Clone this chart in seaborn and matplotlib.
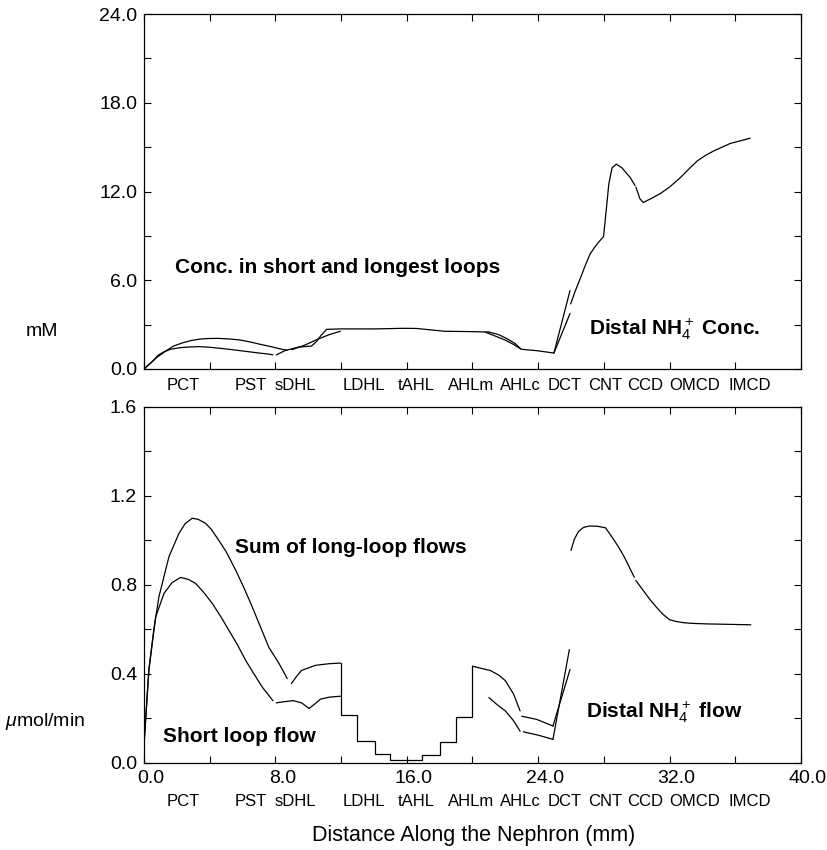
import numpy as np
import pandas as pd
import seaborn as sns
import matplotlib.pyplot as plt
from matplotlib.ticker import MultipleLocator, FormatStrFormatter
from matplotlib.transforms import ScaledTranslation

# ---- segment names along the nephron ----
segments = ["PCT", "PST", "sDHL", "LDHL", "tAHL", "AHLm", "AHLc",
            "DCT", "CNT", "CCD", "OMCD", "IMCD"]
segment_pos = [2.4, 6.5, 9.2, 13.4, 16.6, 19.9, 22.9, 25.6, 28.1, 30.5, 33.5, 36.9]

# ---- top panel: concentration (mM) ----
conc_pct_a_x = [0, 0.3, 0.55, 0.8, 1.36, 1.8, 2.38, 2.9, 3.4, 3.9, 4.52, 5.2, 5.85,
                6.5, 7.07, 7.7, 8.29, 8.7]
conc_pct_a_y = [0, 0.3, 0.55, 0.8, 1.24, 1.55, 1.78, 1.93, 2.02, 2.06, 2.07, 2.03, 1.96,
                1.82, 1.67, 1.52, 1.36, 1.27]
conc_pct_b_x = [0, 0.3, 0.55, 0.85, 1.16, 1.6, 2.18, 2.8, 3.4, 4.0, 4.62, 5.2, 5.85,
                6.5, 7.07, 7.5, 7.85]
conc_pct_b_y = [0, 0.3, 0.55, 0.92, 1.13, 1.33, 1.44, 1.49, 1.51, 1.47, 1.40, 1.33, 1.24,
                1.15, 1.07, 1.02, 0.96]
conc_sdhl_a_x = [8.05, 8.6, 9.4, 10.2, 10.5, 10.8, 11.1]
conc_sdhl_a_y = [0.95, 1.25, 1.48, 1.55, 1.85, 2.3, 2.65]
conc_sdhl_b_x = [9.0, 9.8, 10.6, 11.3, 11.95]
conc_sdhl_b_y = [1.3, 1.62, 2.02, 2.33, 2.55]
conc_loop_x = [11.1, 12.0, 14.1, 15.8, 16.6, 17.5, 18.3, 19.7, 21.0]
conc_loop_y = [2.68, 2.71, 2.71, 2.75, 2.74, 2.64, 2.55, 2.53, 2.50]
conc_ahlc_a_x = [21.0, 21.6, 22.1, 22.6, 22.95]
conc_ahlc_a_y = [2.5, 2.32, 2.05, 1.72, 1.35]
conc_ahlc_b_x = [20.8, 21.4, 22.0, 22.5, 22.95]
conc_ahlc_b_y = [2.48, 2.22, 1.95, 1.66, 1.35]
conc_dct_x = [23.0, 23.9, 24.96]
conc_dct_y = [1.33, 1.24, 1.08]
conc_rise_a_x = [24.96, 25.94]
conc_rise_a_y = [1.08, 5.3]
conc_rise_b_x = [24.96, 25.94]
conc_rise_b_y = [1.08, 3.75]
conc_cnt_x = [25.98, 26.25, 26.55, 26.85, 27.16, 27.45, 27.67, 27.98, 28.15, 28.3,
              28.5, 28.76, 29.1, 29.6, 29.9]
conc_cnt_y = [4.4, 5.25, 6.08, 6.95, 7.77, 8.25, 8.56, 8.95, 10.8, 12.5,
              13.6, 13.85, 13.6, 12.95, 12.4]
conc_ccd_x = [29.95, 30.2, 30.4, 30.84, 31.45, 31.96]
conc_ccd_y = [12.3, 11.5, 11.26, 11.5, 11.87, 12.27]
conc_mcd_x = [32.0, 32.67, 33.2, 33.7, 34.2, 34.7, 35.7, 36.9]
conc_mcd_y = [12.3, 12.95, 13.55, 14.08, 14.45, 14.75, 15.25, 15.6]

# ---- bottom panel: flow (umol/min) ----
flow_pct_long_x = [0, 0.3, 0.6, 0.91, 1.52, 2.13, 2.5, 2.94, 3.3, 3.75, 4.1, 4.56, 5.0,
                   5.58, 6.1, 6.6, 7.1, 7.6, 8.2, 8.72]
flow_pct_long_y = [0.08, 0.42, 0.60, 0.747, 0.927, 1.032, 1.075, 1.10, 1.095, 1.077,
                   1.05, 1.0, 0.95, 0.867, 0.785, 0.70, 0.61, 0.52, 0.45, 0.379]
flow_pct_short_x = [0, 0.3, 0.71, 1.22, 1.7, 2.23, 2.7, 3.14, 3.6, 4.16, 4.7, 5.17,
                    5.7, 6.19, 6.7, 7.2, 7.85]
flow_pct_short_y = [0.08, 0.42, 0.656, 0.762, 0.81, 0.834, 0.825, 0.807, 0.77, 0.717,
                    0.655, 0.596, 0.53, 0.461, 0.40, 0.341, 0.28]
flow_sdhl_long_x = [8.97, 9.3, 9.6, 10.45, 11.26, 11.97]
flow_sdhl_long_y = [0.356, 0.39, 0.416, 0.439, 0.446, 0.449]
flow_sdhl_short_x = [8.05, 8.5, 9.1, 9.6, 10.05, 10.4, 10.75, 11.3, 11.97]
flow_sdhl_short_y = [0.27, 0.275, 0.28, 0.27, 0.245, 0.265, 0.287, 0.296, 0.30]
flow_step_x = [11.97, 11.97, 13.0, 13.0, 14.06, 14.06, 15.0, 15.0, 16.9, 16.9,
               18.0, 18.0, 19.0, 19.0, 20.0, 20.0]
flow_step_y = [0.449, 0.216, 0.216, 0.10, 0.10, 0.04, 0.04, 0.012, 0.012, 0.038,
               0.038, 0.095, 0.095, 0.207, 0.207, 0.435]
flow_ahlc_long_x = [20.0, 21.1, 21.6, 22.0, 22.5, 22.9]
flow_ahlc_long_y = [0.435, 0.415, 0.395, 0.37, 0.31, 0.234]
flow_ahlc_short_x = [21.0, 21.5, 22.0, 22.5, 22.9]
flow_ahlc_short_y = [0.294, 0.262, 0.234, 0.19, 0.143]
flow_dct_long_x = [23.0, 23.9, 24.9]
flow_dct_long_y = [0.21, 0.196, 0.166]
flow_dct_short_x = [23.1, 24.0, 24.9]
flow_dct_short_y = [0.14, 0.125, 0.106]
flow_rise_a_x = [24.9, 25.9]
flow_rise_a_y = [0.106, 0.51]
flow_rise_b_x = [24.9, 25.94]
flow_rise_b_y = [0.166, 0.42]
flow_cnt_x = [26.0, 26.2, 26.45, 26.75, 27.1, 27.6, 28.1, 28.5, 28.9, 29.25, 29.85]
flow_cnt_y = [0.955, 1.005, 1.04, 1.058, 1.065, 1.064, 1.057, 1.015, 0.97, 0.925, 0.835]
flow_ccd_x = [29.95, 30.4, 30.8, 31.2, 31.6, 32.0]
flow_ccd_y = [0.82, 0.775, 0.735, 0.70, 0.668, 0.644]
flow_mcd_x = [32.0, 32.4, 32.9, 33.5, 34.3, 36.95]
flow_mcd_y = [0.644, 0.636, 0.63, 0.627, 0.625, 0.621]


def make_df(pieces):
    rows = []
    for i, (xs, ys) in enumerate(pieces):
        rows.append(pd.DataFrame({"x": xs, "y": ys, "seg": i}))
    return pd.concat(rows, ignore_index=True)


conc_df = make_df([
    (conc_pct_a_x, conc_pct_a_y), (conc_pct_b_x, conc_pct_b_y),
    (conc_sdhl_a_x, conc_sdhl_a_y), (conc_sdhl_b_x, conc_sdhl_b_y),
    (conc_loop_x, conc_loop_y), (conc_ahlc_a_x, conc_ahlc_a_y),
    (conc_ahlc_b_x, conc_ahlc_b_y), (conc_dct_x, conc_dct_y),
    (conc_rise_a_x, conc_rise_a_y), (conc_rise_b_x, conc_rise_b_y),
    (conc_cnt_x, conc_cnt_y), (conc_ccd_x, conc_ccd_y), (conc_mcd_x, conc_mcd_y),
])
flow_df = make_df([
    (flow_pct_long_x, flow_pct_long_y), (flow_pct_short_x, flow_pct_short_y),
    (flow_sdhl_long_x, flow_sdhl_long_y), (flow_sdhl_short_x, flow_sdhl_short_y),
    (flow_step_x, flow_step_y), (flow_ahlc_long_x, flow_ahlc_long_y),
    (flow_ahlc_short_x, flow_ahlc_short_y), (flow_dct_long_x, flow_dct_long_y),
    (flow_dct_short_x, flow_dct_short_y), (flow_rise_a_x, flow_rise_a_y),
    (flow_rise_b_x, flow_rise_b_y), (flow_cnt_x, flow_cnt_y),
    (flow_ccd_x, flow_ccd_y), (flow_mcd_x, flow_mcd_y),
])

sns.set_style("ticks", {"axes.edgecolor": "black", "text.color": "black",
                        "xtick.color": "black", "ytick.color": "black",
                        "axes.labelcolor": "black"})
plt.rcParams["font.family"] = ["Liberation Sans", "DejaVu Sans"]
plt.rcParams["mathtext.fontset"] = "custom"
plt.rcParams["mathtext.rm"] = "Liberation Sans"
plt.rcParams["mathtext.it"] = "Liberation Sans:italic"
plt.rcParams["mathtext.bf"] = "Liberation Sans:bold"

fig = plt.figure(figsize=(8.27, 8.5), dpi=100)
ax1 = fig.add_axes([0.1741, 0.5659, 0.7944, 0.4176])
ax2 = fig.add_axes([0.1741, 0.1024, 0.7944, 0.4188])

for ax, df in [(ax1, conc_df), (ax2, flow_df)]:
    sns.lineplot(data=df, x="x", y="y", units="seg", estimator=None, sort=False,
                 color="black", lw=0.9, ax=ax)
    ax.set_xlim(0, 40)
    ax.set_xlabel("")
    ax.set_ylabel("")
    ax.tick_params(which="both", direction="in", top=True, right=True,
                   length=5, width=0.8, labelsize=14, pad=5, colors="black")
    for s in ax.spines.values():
        s.set_linewidth(0.9)
        s.set_color("black")

ax1.set_ylim(0, 24)
ax1.yaxis.set_major_locator(MultipleLocator(6))
ax1.yaxis.set_minor_locator(MultipleLocator(3))
ax1.yaxis.set_major_formatter(FormatStrFormatter("%.1f"))
ax1.xaxis.set_major_locator(MultipleLocator(4))
ax1.tick_params(axis="x", labelbottom=False)

ax2.set_ylim(0, 1.6)
ax2.yaxis.set_major_locator(MultipleLocator(0.4))
ax2.yaxis.set_minor_locator(MultipleLocator(0.2))
ax2.yaxis.set_major_formatter(FormatStrFormatter("%.1f"))
ax2.xaxis.set_major_locator(MultipleLocator(8))
ax2.xaxis.set_minor_locator(MultipleLocator(4))
ax2.xaxis.set_major_formatter(FormatStrFormatter("%.1f"))
shift = ScaledTranslation(7 / 100, 0, fig.dpi_scale_trans)
for lab in ax2.get_xticklabels():
    lab.set_transform(lab.get_transform() + shift)

# segment names under each panel
for ax, off in [(ax1, -12), (ax2, -28)]:
    for name, xp in zip(segments, segment_pos):
        ax.annotate(name, xy=(xp, 0), xycoords=("data", "axes fraction"),
                    xytext=(0, off), textcoords="offset points",
                    ha="center", va="center", fontsize=12)

# in-plot labels
ax1.text(1.9, 6.88, "Conc. in short and longest loops", fontsize=15,
         fontweight="bold", va="center")
ax1.text(27.1, 2.7, r"Distal NH$_4^+$ Conc.", fontsize=15,
         fontweight="bold", va="center")
ax2.text(5.57, 0.97, "Sum of long-loop flows", fontsize=15,
         fontweight="bold", va="center")
ax2.text(1.15, 0.12, "Short loop flow", fontsize=15,
         fontweight="bold", va="center")
ax2.text(26.9, 0.226, r"Distal NH$_4^+$ flow", fontsize=15,
         fontweight="bold", va="center")

fig.text(42 / 827, 1 - 331 / 850, "mM", fontsize=14, ha="center", va="center")
fig.text(45 / 827, 1 - 722 / 850, r"$\mu$mol/min", fontsize=14,
         ha="center", va="center")
fig.text(0.573, 1 - 836 / 850, "Distance Along the Nephron (mm)", fontsize=15.5,
         ha="center", va="center")

fig.savefig("out.png", dpi=100)
